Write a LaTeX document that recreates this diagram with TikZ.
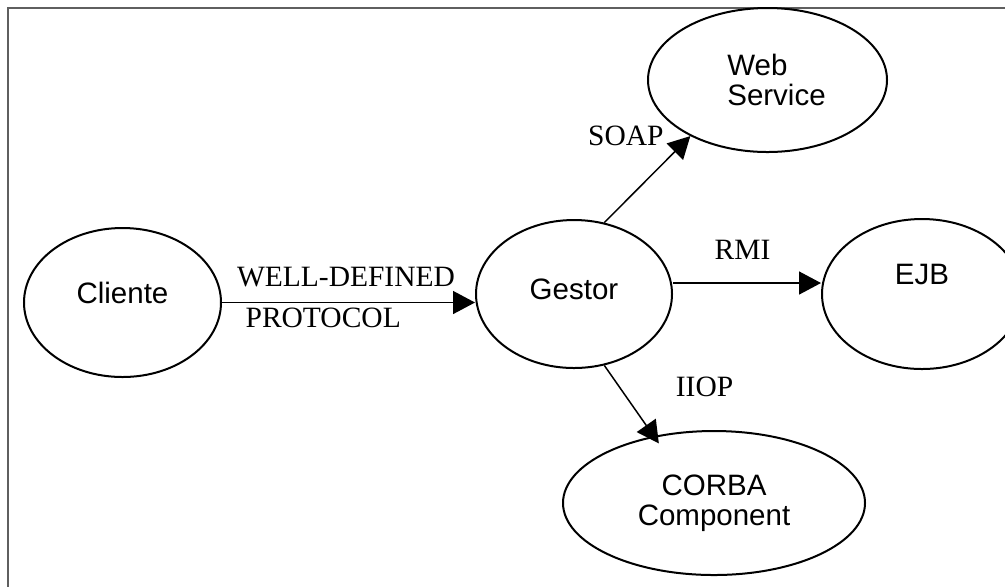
\documentclass[tikz,border=0pt]{standalone}
\usepackage{fontspec}
\setmainfont{Liberation Serif}
\setsansfont{Liberation Sans}
\usepackage{xcolor}
\definecolor{ink}{HTML}{000000}
\definecolor{framegray}{HTML}{5F5F5F}
\usetikzlibrary{arrows.meta,positioning,shapes.geometric}
\tikzset{
  every picture/.style={line width=0.75pt},
  oval/.style={ellipse, draw=ink, line width=1pt, inner sep=0pt, text=ink, font=\sffamily\fontsize{14.75}{15}\selectfont, minimum width=#1},
  oval/.default=98pt,
  arrow/.style={-{Triangle[length=11pt,width=11.5pt]}, draw=ink},
  note/.style={font=\fontsize{14.75}{15}\selectfont, text=ink, inner sep=0pt},
}
\newcommand{\indentby}{\hspace*{9pt}}

\begin{document}
\begin{tikzpicture}[x=0.5pt, y=-0.5pt,
    oneline/.style={text height=10.5pt, text depth=#1},
    twoline/.style={oval=#1, minimum height=72pt}]
  \useasboundingbox (0,0) rectangle (1005,586);
  \clip (0,0) rectangle (1005,586);
  \draw[draw=framegray, line width=1pt] (8,8) rectangle (1040,620);
  % services around the manager
  \node[oval=98pt, minimum height=74pt, oneline=5.5pt] (gestor) at (574,294) {Gestor};
  \node[oval=98.5pt, minimum height=74.5pt, oneline=9.5pt, left=126.5pt of gestor, yshift=-4.25pt] (cliente) {Cliente};
  \node[oval=100pt, minimum height=75pt, oneline=20pt, right=74pt of gestor] (ejb) {EJB};
  \node[twoline=119.5pt, align=left] (websvc) at (767.5,80) {\indentby Web\\\indentby Service};
  \node[twoline=151pt, align=center] (corba) at (714,503) {CORBA\\Component};
  \draw[arrow] (cliente.east) -- node[note, pos=0.49, above=7.5pt] (welldef) {WELL-DEFINED}
    node[note, pos=0.4, below=2.5pt] (protocol) {PROTOCOL} (cliente.east -| gestor.west);
  \draw[arrow] (gestor.67) -- node[note, pos=1, left=13pt] (soap) {SOAP} (websvc.216);
  \draw[arrow] ([yshift=5.5pt]gestor.east) -- node[note, pos=0.47, above=11.5pt] (rmi) {RMI} ([yshift=5.5pt]ejb.west);
  \draw[arrow, shorten >=-4.5pt] (gestor.293) -- node[note, pos=0.3, right=28pt] (iiop) {IIOP} (corba.132);
\end{tikzpicture}
\end{document}
